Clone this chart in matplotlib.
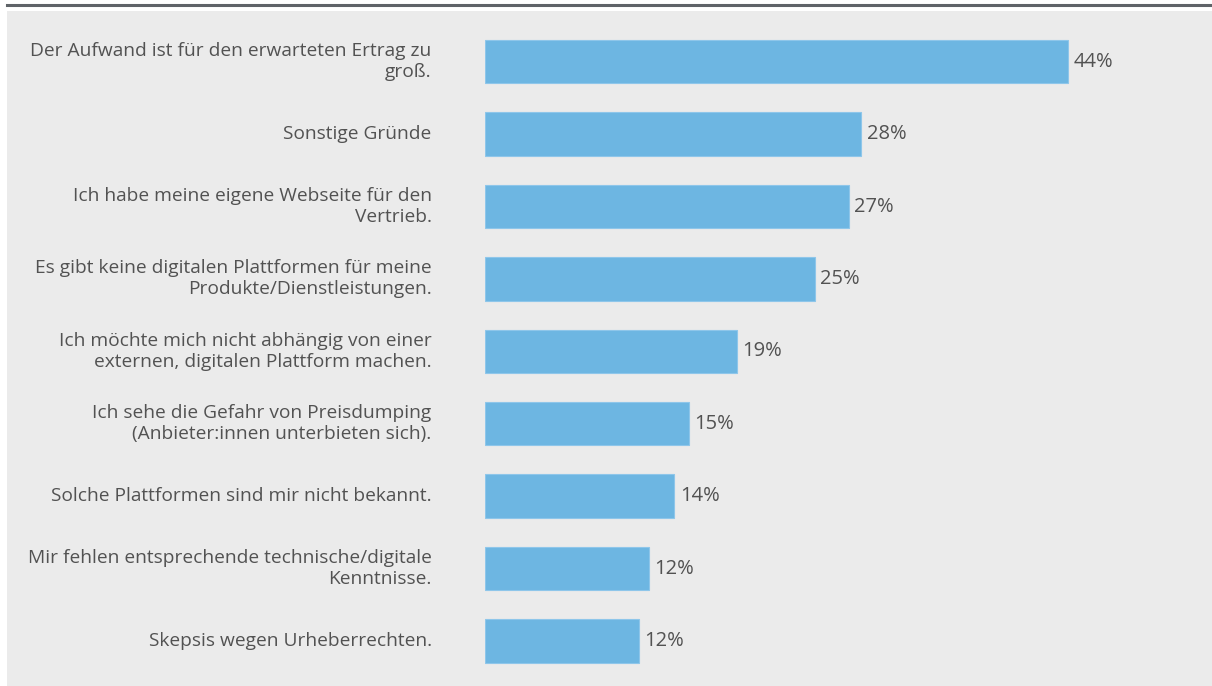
import matplotlib
matplotlib.use("Agg")
import matplotlib.pyplot as plt
from matplotlib.patches import Rectangle
from matplotlib.lines import Line2D

categories = [
    "Der Aufwand ist für den erwarteten Ertrag zu\ngroß.",
    "Sonstige Gründe",
    "Ich habe meine eigene Webseite für den\nVertrieb.",
    "Es gibt keine digitalen Plattformen für meine\nProdukte/Dienstleistungen.",
    "Ich möchte mich nicht abhängig von einer\nexternen, digitalen Plattform machen.",
    "Ich sehe die Gefahr von Preisdumping\n(Anbieter:innen unterbieten sich).",
    "Solche Plattformen sind mir nicht bekannt.",
    "Mir fehlen entsprechende technische/digitale\nKenntnisse.",
    "Skepsis wegen Urheberrechten.",
]
values = [44.0, 28.4, 27.45, 24.9, 19.0, 15.4, 14.3, 12.4, 11.6]

W, H = 1212, 686
fig = plt.figure(figsize=(W / 100, H / 100), dpi=100)
fig.patch.set_facecolor("white")

# grey panel and top rule
fig.add_artist(Rectangle((7 / W, 0), 1 - 7 / W, 1 - 11 / H, transform=fig.transFigure,
                         facecolor="#ebebeb", edgecolor="none", zorder=0))
fig.add_artist(Line2D([7 / W, 1], [1 - 5 / H, 1 - 5 / H], transform=fig.transFigure,
                      color="#5f6368", linewidth=2.2, zorder=1))

px_per_unit = (1068.3 - 484.7) / 44.0
left_px = 484.7
pitch = 72.4
c0 = 61.7
top_px = c0 - 0.5 * pitch
bot_px = c0 + 8.5 * pitch
ax = fig.add_axes([left_px / W, 1 - bot_px / H, 1 - left_px / W, (bot_px - top_px) / H])
ax.set_facecolor("none")
ax.set_xlim(0, (W - left_px) / px_per_unit)
ax.set_ylim(len(values) - 0.5, -0.5)

ypos = list(range(len(values)))
ax.barh(ypos, values, height=43.4 / pitch, color="#6db6e2", edgecolor="#8ec6ea",
        linewidth=0.8, zorder=2)

font = "Open Sans"
txt_color = "#525252"
for y, v, lab in zip(ypos, values, categories):
    ax.annotate(f"{v:.0f}%", xy=(v, y), xytext=(5.5 * 0.72, 0), textcoords="offset points",
                ha="left", va="center", fontsize=14.5, color=txt_color, family=font)
    ax.annotate(lab, xy=(0, y), xytext=(-53 * 0.72, 0), textcoords="offset points",
                ha="right", va="center", fontsize=13.8, color=txt_color, family=font,
                linespacing=1.22, multialignment="right")

for s in ax.spines.values():
    s.set_visible(False)
ax.set_xticks([])
ax.set_yticks([])

fig.savefig("out.png", dpi=100, facecolor=fig.get_facecolor())
